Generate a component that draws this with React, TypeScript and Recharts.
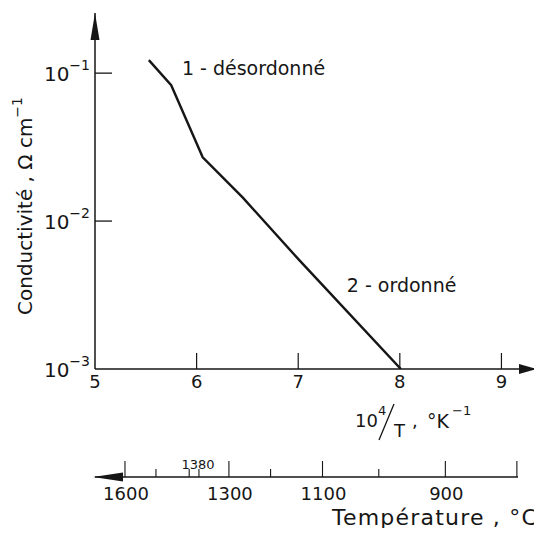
import React from 'react';
import { ComposedChart, Line, XAxis, YAxis, ReferenceDot } from 'recharts';

// ---- data ----
const invT = [5.53, 5.75, 6.06, 6.455, 7.015, 8.01]; // 10^4/T, K^-1
const conductivity = [0.1225, 0.0829, 0.027, 0.0144, 0.0054, 0.001]; // Ω^-1 cm^-1

const xTicks = [5, 6, 7, 8, 9];
const yTicks = [0.001, 0.01, 0.1];
const yTickExponents = ['−3', '−2', '−1'];

const tempValues = [1600, 1500, 1400, 1380, 1300, 1200, 1100, 1000, 900, 800];
const tempPositions = [5.295, 5.6, 5.927, 6.023, 6.318, 6.728, 7.239, 7.793, 8.448, 9.152];
const tempLabelled = [1600, 1300, 1100, 900];
const tempLabelledAbove = [1380];

const annotationText = ['1 - désordonné', '2 - ordonné'];
const annotationX = [5.855, 7.478];
const annotationY = [0.0969, 0.00333];

const data = invT.map((x, i) => ({ x, sigma: conductivity[i] }));

const INK = '#161616';
const FONT = "'DejaVu Sans', sans-serif";

const MainYTick = (props: any) => {
  const { x, y, payload } = props;
  const i = yTicks.indexOf(payload.value);
  return (
    <g>
      {i > 0 && <line x1={x} y1={y} x2={x + 17} y2={y} stroke={INK} strokeWidth={1.3} />}
      <text x={x - 5} y={y + 8} textAnchor="end" fontSize={20} fill={INK} fontFamily={FONT}>
        10<tspan fontSize={14} dy={-11}>{yTickExponents[i]}</tspan>
      </text>
    </g>
  );
};

const MainXTick = (props: any) => {
  const { x, y, payload } = props;
  return (
    <g>
      {payload.value !== xTicks[0] && (
        <line x1={x} y1={y} x2={x} y2={y - 16} stroke={INK} strokeWidth={1.2} />
      )}
      <text x={x} y={y + 19} textAnchor="middle" fontSize={18} fill={INK} fontFamily={FONT}>
        {payload.value}
      </text>
    </g>
  );
};

const TempTick = (props: any) => {
  const { x, y, payload } = props;
  let i = -1;
  let best = Infinity;
  tempPositions.forEach((p, k) => {
    const d = Math.abs(p - payload.value);
    if (d < best) {
      best = d;
      i = k;
    }
  });
  const t = tempValues[i];
  const below = tempLabelled.includes(t);
  const above = tempLabelledAbove.includes(t);
  const long = below || i === tempValues.length - 1;
  return (
    <g>
      <line x1={x} y1={y} x2={x} y2={y - (long ? 16 : 8)} stroke={INK} strokeWidth={1.1} />
      {below && (
        <text x={x + 1} y={y + 23} textAnchor="middle" fontSize={18} fill={INK} fontFamily={FONT}>
          {t}
        </text>
      )}
      {above && (
        <text x={x - 1} y={y - 8} textAnchor="middle" fontSize={13} fill={INK} fontFamily={FONT}>
          {t}
        </text>
      )}
    </g>
  );
};

const YTitle = (props: any) => {
  const vb = props.viewBox || {};
  const ax = vb.x + vb.width;
  const cx = vb.x + 31.5;
  const cy = vb.y + 193;
  return (
    <g>
      <polygon points={`${ax},${vb.y} ${ax - 4.5},${vb.y + 27} ${ax + 4.5},${vb.y + 27}`} fill={INK} />
      <text
        x={cx}
        y={cy}
        transform={`rotate(-90 ${cx} ${cy})`}
        textAnchor="middle"
        fontSize={20}
        fill={INK}
        fontFamily={FONT}
      >
        Conductivité , Ω cm<tspan fontSize={14} dy={-10}>−1</tspan>
      </text>
    </g>
  );
};

const XTitle = (props: any) => {
  const vb = props.viewBox || {};
  const { x, y, width } = vb;
  const r = x + width;
  const tp = { fill: INK, fontFamily: FONT };
  return (
    <g>
      <polygon points={`${r},${y} ${r - 18},${y - 5} ${r - 18},${y + 5}`} fill={INK} />
      <text x={x + 260} y={y + 58} fontSize={18} {...tp}>10</text>
      <text x={x + 283} y={y + 46} fontSize={13} {...tp}>4</text>
      <line x1={x + 284} y1={y + 71} x2={x + 299} y2={y + 35} stroke={INK} strokeWidth={1.3} />
      <text x={x + 299} y={y + 68} fontSize={18} {...tp}>T</text>
      <text x={x + 317} y={y + 58} fontSize={18} {...tp}>,</text>
      <text x={x + 332} y={y + 59} fontSize={19} {...tp}>°K</text>
      <text x={x + 357} y={y + 46} fontSize={13} {...tp}>−1</text>
    </g>
  );
};

const TempTitle = (props: any) => {
  const vb = props.viewBox || {};
  const { x, y, width } = vb;
  return (
    <g>
      <polygon points={`${x - 2},${y} ${x + 28},${y - 4.5} ${x + 28},${y + 4.5}`} fill={INK} />
      <text
        x={x + width + 1}
        y={y + 48}
        textAnchor="end"
        fontSize={22}
        letterSpacing={1.2}
        fill={INK}
        fontFamily={FONT}
      >
        Température , °C
      </text>
    </g>
  );
};

const Annotation = (text: string) => (p: any) => (
  <text x={p.cx} y={p.cy} fontSize={19} fill={INK} fontFamily={FONT}>
    {text}
  </text>
);

export default function App() {
  return (
    <div style={{ margin: -8, width: 542, height: 536 }}>
      <ComposedChart
        width={542}
        height={536}
        data={data}
        margin={{ top: 13, right: 5, left: 0, bottom: 0 }}
      >
        <XAxis
          xAxisId="main"
          type="number"
          dataKey="x"
          domain={[5, 9.35]}
          allowDataOverflow
          ticks={xTicks}
          interval={0}
          height={108}
          tickLine={false}
          tickSize={0}
          tickMargin={0}
          axisLine={{ stroke: INK, strokeWidth: 1.5 }}
          tick={<MainXTick />}
          label={XTitle}
        />
        <XAxis
          xAxisId="temp"
          type="number"
          dataKey="x"
          domain={[5, 9.35]}
          allowDataOverflow
          ticks={tempPositions}
          interval={0}
          height={59}
          tickLine={false}
          tickSize={0}
          tickMargin={0}
          axisLine={{ stroke: INK, strokeWidth: 1.5, strokeDasharray: '423 1000' }}
          tick={<TempTick />}
          label={TempTitle}
        />
        <YAxis
          yAxisId="main"
          type="number"
          scale="log"
          domain={[0.001, 0.255]}
          allowDataOverflow
          ticks={yTicks}
          interval={0}
          width={95}
          tickLine={false}
          tickSize={0}
          tickMargin={0}
          axisLine={{ stroke: INK, strokeWidth: 1.5 }}
          tick={<MainYTick />}
          label={YTitle}
        />
        <Line
          xAxisId="main"
          yAxisId="main"
          type="linear"
          dataKey="sigma"
          stroke={INK}
          strokeWidth={2.4}
          dot={false}
          isAnimationActive={false}
        />
        <Line
          xAxisId="temp"
          yAxisId="main"
          type="linear"
          dataKey="sigma"
          stroke="none"
          strokeOpacity={0}
          dot={false}
          activeDot={false}
          legendType="none"
          isAnimationActive={false}
        />
        {annotationText.map((t, i) => (
          <ReferenceDot
            key={t}
            xAxisId="main"
            yAxisId="main"
            x={annotationX[i]}
            y={annotationY[i]}
            r={0}
            shape={Annotation(t)}
          />
        ))}
      </ComposedChart>
    </div>
  );
}
